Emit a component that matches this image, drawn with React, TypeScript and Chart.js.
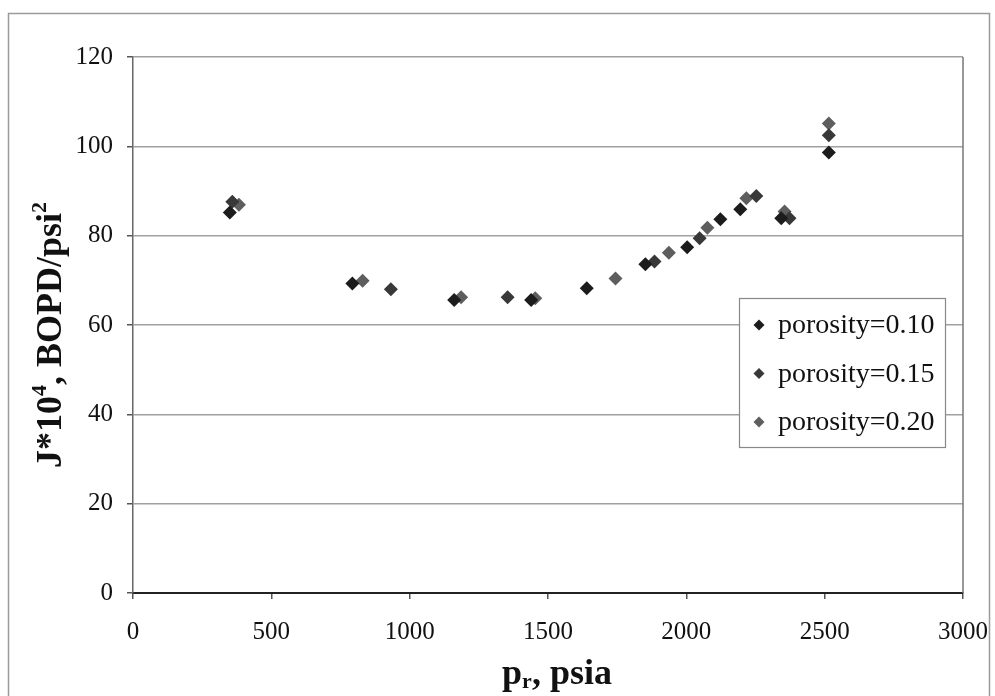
import { useEffect, useRef } from 'react';
import { Chart, registerables } from 'chart.js';

Chart.register(...registerables);

const seriesLabels = ['porosity=0.10', 'porosity=0.15', 'porosity=0.20'];
const seriesColors = ['#1c1c1c', '#383838', '#5e5e5e'];

const p010 = [350, 793, 1161, 1439, 1640, 1852, 2003, 2123, 2195, 2343, 2515];
const j010 = [85.2, 69.3, 65.6, 65.6, 68.2, 73.6, 77.4, 83.7, 85.9, 83.9, 98.6];
const p015 = [359, 932, 1354, 1885, 2048, 2253, 2373, 2515];
const j015 = [87.6, 68.0, 66.2, 74.2, 79.4, 88.9, 83.9, 102.5];
const p020 = [383, 830, 1186, 1454, 1744, 1937, 2076, 2217, 2355, 2515];
const j020 = [86.9, 69.9, 66.2, 66.0, 70.4, 76.2, 81.8, 88.4, 85.4, 105.1];

const xMin = 0, xMax = 3000, xStep = 500;
const yMin = 0, yMax = 120, yStep = 20;

const FONT = "'Liberation Serif', 'Times New Roman', serif";

type Part = { t: string; k?: 'sup' | 'sub' };
const yTitleParts: Part[] = [{ t: 'J*10' }, { t: '4', k: 'sup' }, { t: ', BOPD/psi' }, { t: '2', k: 'sup' }];
const xTitleParts: Part[] = [{ t: 'p' }, { t: 'r', k: 'sub' }, { t: ', psia' }];

function drawParts(ctx: CanvasRenderingContext2D, parts: Part[], size: number) {
  const widths = parts.map((p) => {
    ctx.font = `bold ${p.k ? Math.round(size * 0.62) : size}px ${FONT}`;
    return ctx.measureText(p.t).width;
  });
  const total = widths.reduce((a, b) => a + b, 0);
  let x = -total / 2;
  parts.forEach((p, i) => {
    ctx.font = `bold ${p.k ? Math.round(size * 0.62) : size}px ${FONT}`;
    const dy = p.k === 'sup' ? -size * 0.42 : p.k === 'sub' ? size * 0.1 : 0;
    ctx.fillText(p.t, x, dy);
    x += widths[i];
  });
}

const decorPlugin = {
  id: 'decor',
  beforeDraw(chart: any) {
    const ctx = chart.ctx as CanvasRenderingContext2D;
    ctx.save();
    ctx.fillStyle = '#ffffff';
    ctx.fillRect(0, 0, chart.width, chart.height);
    ctx.strokeStyle = '#9a9a9a';
    ctx.lineWidth = 1.5;
    ctx.strokeRect(8.5, 13.5, 981, 720);
    ctx.restore();
  },
  afterDraw(chart: any) {
    const ctx = chart.ctx as CanvasRenderingContext2D;
    const a = chart.chartArea;
    ctx.save();
    // plot area right border
    ctx.strokeStyle = '#777';
    ctx.lineWidth = 1.5;
    ctx.beginPath();
    ctx.moveTo(a.right, a.top);
    ctx.lineTo(a.right, a.bottom);
    ctx.stroke();

    // axis titles
    ctx.fillStyle = '#111';
    ctx.textBaseline = 'alphabetic';
    ctx.textAlign = 'left';
    ctx.save();
    ctx.translate(61, 335);
    ctx.rotate(-Math.PI / 2);
    drawParts(ctx, yTitleParts, 36);
    ctx.restore();

    ctx.save();
    ctx.translate(557, 684);
    drawParts(ctx, xTitleParts, 36);
    ctx.restore();

    // legend
    const lx = 739.5, ly = 298.5, lw = 206, lh = 149;
    ctx.fillStyle = '#ffffff';
    ctx.fillRect(lx, ly, lw, lh);
    ctx.strokeStyle = '#888';
    ctx.lineWidth = 1.2;
    ctx.strokeRect(lx, ly, lw, lh);
    chart.data.datasets.forEach((ds: any, i: number) => {
      const cy = 325 + i * 48.5;
      const cx = 759;
      const r = 5.5;
      ctx.fillStyle = ds.backgroundColor;
      ctx.beginPath();
      ctx.moveTo(cx, cy - r);
      ctx.lineTo(cx + r, cy);
      ctx.lineTo(cx, cy + r);
      ctx.lineTo(cx - r, cy);
      ctx.closePath();
      ctx.fill();
      ctx.fillStyle = '#111';
      ctx.font = `28px ${FONT}`;
      ctx.textBaseline = 'middle';
      ctx.fillText(ds.label, 778, cy + 1);
    });
    ctx.restore();
  },
};

export default function App() {
  const ref = useRef<HTMLCanvasElement | null>(null);
  useEffect(() => {
    if (!ref.current) return;
    const mk = (xs: number[], ys: number[]) => xs.map((x, i) => ({ x, y: ys[i] }));
    const datas = [mk(p010, j010), mk(p015, j015), mk(p020, j020)];
    const chart = new Chart(ref.current, {
      type: 'scatter',
      data: {
        datasets: datas.map((d, i) => ({
          label: seriesLabels[i],
          data: d,
          backgroundColor: seriesColors[i],
          borderColor: seriesColors[i],
          borderWidth: 0,
          pointStyle: 'rectRot',
          pointRadius: 7,
          pointHoverRadius: 7,
        })),
      },
      options: {
        animation: false,
        responsive: false,
        layout: { padding: { left: 0, right: 32, top: 57, bottom: 0 } },
        plugins: { legend: { display: false }, tooltip: { enabled: false } },
        scales: {
          x: {
            type: 'linear',
            min: xMin,
            max: xMax,
            ticks: {
              stepSize: xStep,
              font: { family: FONT, size: 25 },
              color: '#111',
              padding: 18,
              maxRotation: 0,
              callback: (v: any) => String(v),
            },
            grid: { drawOnChartArea: false, drawTicks: true, tickLength: 6, tickColor: '#555', lineWidth: 1.5 },
            border: { display: true, color: '#222', width: 2 },
            afterFit: (s: any) => { s.height = 103; s.paddingLeft = 0; s.paddingRight = 0; },
          },
          y: {
            type: 'linear',
            min: yMin,
            max: yMax,
            ticks: {
              stepSize: yStep,
              font: { family: FONT, size: 25 },
              color: '#111',
              padding: 14,
              callback: (v: any) => String(v),
            },
            grid: { color: '#a0a0a0', lineWidth: 1.5, drawTicks: true, tickLength: 6, tickColor: '#555' },
            border: { display: true, color: '#666', width: 1.5 },
            afterFit: (s: any) => { s.width = 133; s.paddingTop = 0; s.paddingBottom = 0; },
          },
        },
      },
      plugins: [decorPlugin],
    });
    return () => chart.destroy();
  }, []);
  return (
    <canvas
      ref={ref}
      width={995}
      height={696}
      style={{ position: 'fixed', left: 0, top: 0, width: 995, height: 696 }}
    />
  );
}
